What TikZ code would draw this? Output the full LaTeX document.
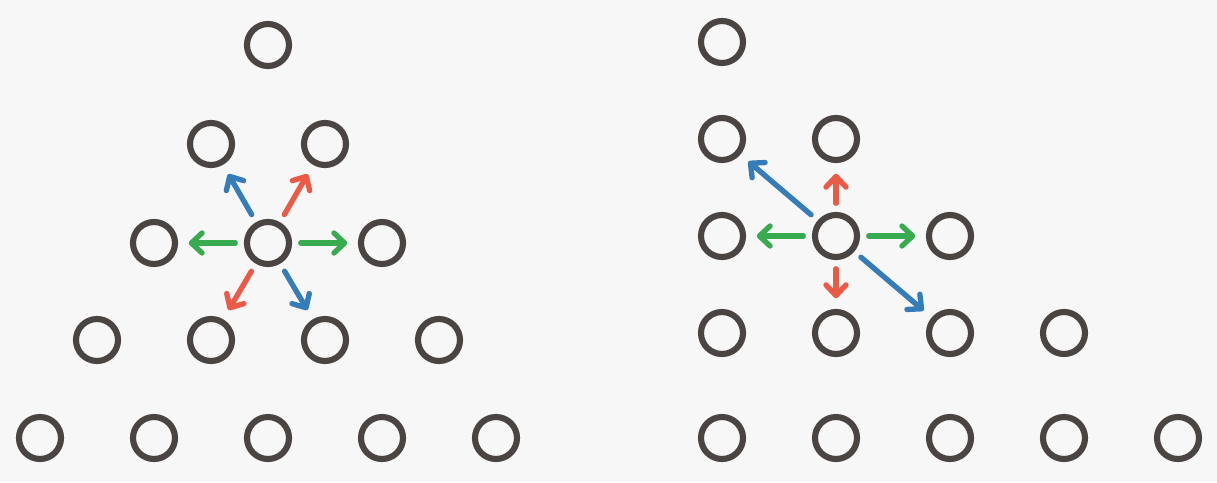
\documentclass[tikz,border=0pt]{standalone}
\usetikzlibrary{arrows.meta}

\definecolor{paper}{RGB}{247,247,247}
\definecolor{ink}{RGB}{74,69,66}
\definecolor{moveblue}{RGB}{52,125,185}
\definecolor{movered}{RGB}{235,90,70}
\definecolor{movegreen}{RGB}{56,170,80}

\begin{document}
\begin{tikzpicture}[
  x=0.75pt, y=-0.75pt,
  cell/.style={circle, draw=ink, line width=4.6pt, minimum size=31.5pt, inner sep=0pt},
  move/.style={line width=4pt, line cap=round, line join=round,
    -{Straight Barb[length=8pt, width=15pt, line cap=round, line join=round]},
    shorten <=6.5pt, shorten >=8pt}
]
  \fill[paper] (0,0) rectangle (1217,482);

  % triangular board
  \foreach \r/\ry in {0/45, 1/144, 2/243, 3/340, 4/438} {
    \foreach \c in {0,...,\r} {
      \node[cell] (L-\r-\c) at ({268 + (\c - \r/2)*114}, \ry) {};
    }
  }

  % skewed board
  \foreach \r/\ry in {0/42, 1/139, 2/236, 3/333, 4/438} {
    \foreach \c in {0,...,\r} {
      \node[cell] (R-\r-\c) at ({722 + \c*114}, \ry) {};
    }
  }

  \draw[move, moveblue]  (L-2-1) -- (L-1-0);
  \draw[move, movered]   (L-2-1) -- (L-1-1);
  \draw[move, movegreen] (L-2-1) -- (L-2-0);
  \draw[move, movegreen] (L-2-1) -- (L-2-2);
  \draw[move, movered]   (L-2-1) -- (L-3-1);
  \draw[move, moveblue]  (L-2-1) -- (L-3-2);

  \draw[move, moveblue]  (R-2-1) -- (R-1-0);
  \draw[move, movered]   (R-2-1) -- (R-1-1);
  \draw[move, movegreen] (R-2-1) -- (R-2-0);
  \draw[move, movegreen] (R-2-1) -- (R-2-2);
  \draw[move, movered]   (R-2-1) -- (R-3-1);
  \draw[move, moveblue]  (R-2-1) -- (R-3-2);
\end{tikzpicture}
\end{document}
